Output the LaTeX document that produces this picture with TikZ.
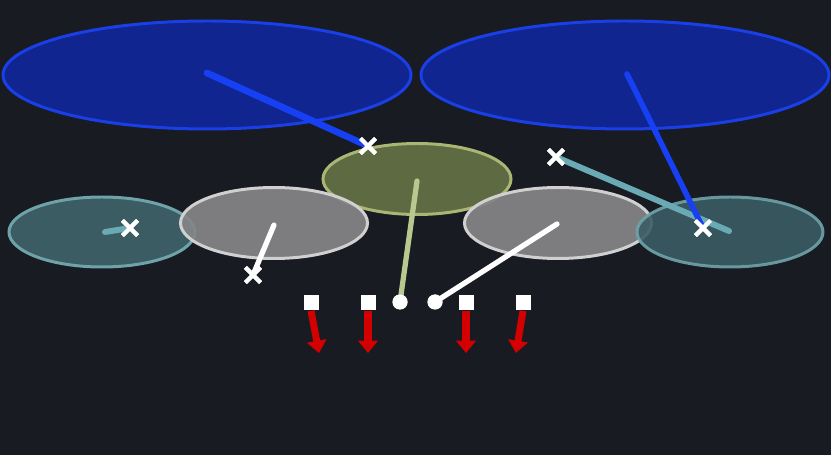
\documentclass[tikz,border=0pt]{standalone}
\usetikzlibrary{shapes.geometric,shapes.misc,arrows.meta}
\definecolor{bg}{HTML}{181B21}
\definecolor{bluefill}{HTML}{10258F}
\definecolor{blueedge}{HTML}{1A3FE6}
\definecolor{blueline}{HTML}{1740F5}
\definecolor{grayfill}{HTML}{858587}
\definecolor{grayedge}{HTML}{D0D0D0}
\definecolor{tealfill}{HTML}{3B5C63}
\definecolor{tealedge}{HTML}{6FA3AA}
\definecolor{tealline}{HTML}{6AAAB4}
\definecolor{greenfill}{HTML}{5E6A42}
\definecolor{greenedge}{HTML}{A9B674}
\definecolor{greenline}{HTML}{B9C88E}
\definecolor{redarrow}{HTML}{D20000}
\begin{document}
\begin{tikzpicture}[x=0.02cm,y=-0.02cm,
  oval/.style n args={4}{ellipse,inner sep=0pt,minimum width={#1*0.02cm},minimum height={#2*0.02cm},fill=#3,draw=#4,line width=1.7pt},
  xmark/.style={cross out,draw=white,line width=2.3pt,minimum size={11*0.02cm},inner sep=0pt},
  sq/.style={rectangle,fill=white,inner sep=0pt,minimum size={15*0.02cm}},
  dot/.style={circle,fill=white,inner sep=0pt,minimum size={15*0.02cm}},
  link/.style={line width=#1, line cap=round},
  redarr/.style={draw=redarrow,line width=4pt,-{Triangle[length=7pt,width=11pt]}}
]
\fill[bg] (0,0) rectangle (831,455);
\useasboundingbox (0,0) rectangle (831,455);

% big blue ovals
\node[oval={408}{108}{bluefill}{blueedge}] (bl) at (207,75) {};
\node[oval={408}{108}{bluefill}{blueedge}] (br) at (625,75) {};

% middle row ovals
\node[oval={186}{70}{tealfill}{tealedge}] (tl) at (102,232) {};
\node[oval={188}{71}{greenfill}{greenedge}] (gm) at (417,179) {};
\node[oval={187}{71}{grayfill}{grayedge},fill opacity=0.93] (gl) at (274,223) {};
\node[oval={187}{71}{grayfill}{grayedge},fill opacity=0.93] (gr) at (558,223) {};
\node[oval={186}{70}{tealfill}{tealedge},fill opacity=0.9,draw opacity=0.9] (tr) at (730,232) {};

% center anchors of the links
\coordinate (blc) at (207,73);
\coordinate (brc) at (627,74);
\coordinate (gmc) at (417,181);
\coordinate (glc) at (274,225);
\coordinate (grc) at (557,224);
\coordinate (tlc) at (105,232);
\coordinate (trc) at (729,231);

% marks
\node[xmark] (x1) at (368,146) {};
\node[xmark] (x2) at (703,228) {};
\node[xmark] (x3) at (556,157) {};
\node[xmark] (x4) at (253,275) {};
\node[xmark] (x5) at (130,228) {};

\node[sq] (s1) at (311,303) {};
\node[sq] (s2) at (368,303) {};
\node[sq] (s3) at (466,303) {};
\node[sq] (s4) at (523,303) {};
\node[dot] (d1) at (400,302) {};
\node[dot] (d2) at (435,302) {};

% links
\draw[blueline,link=3.8pt] (blc) -- (x1.center);
\draw[tealline,link=3.4pt] (trc) -- (x3.center);
\draw[blueline,link=3.2pt] (brc) -- (x2.center);
\draw[tealline,link=3.4pt] (tlc) -- (x5.center);
\draw[greenline,link=3pt] (gmc) -- (d1.center);
\draw[white,link=3pt] (glc) -- (x4.center);
\draw[white,link=3pt] (grc) -- (d2.center);

% redraw marks on top
\node[xmark] at (x1) {};
\node[xmark] at (x2) {};
\node[xmark] at (x3) {};
\node[xmark] at (x4) {};
\node[xmark] at (x5) {};
\node[dot] at (d1) {};
\node[dot] at (d2) {};

% red arrows
\coordinate (e1) at (319,353);
\coordinate (e2) at (368,353);
\coordinate (e3) at (466,353);
\coordinate (e4) at (516,353);
\draw[redarr] (s1.south) -- (e1);
\draw[redarr] (s2.south) -- (e2);
\draw[redarr] (s3.south) -- (e3);
\draw[redarr] (s4.south) -- (e4);
\end{tikzpicture}
\end{document}
